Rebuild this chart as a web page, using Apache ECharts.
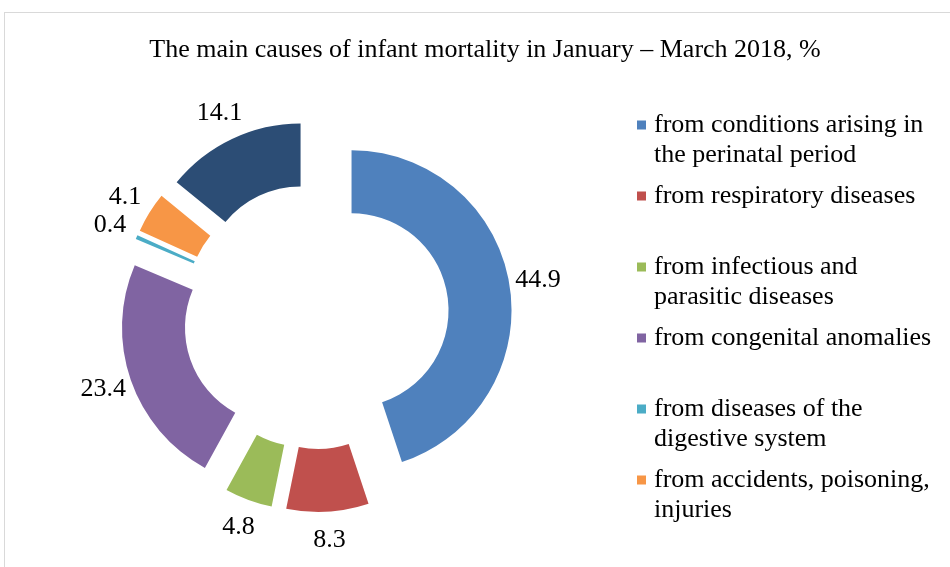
<!DOCTYPE html>
<html>
<head>
<meta charset="utf-8">
<script src="https://cdn.jsdelivr.net/npm/echarts@6/dist/echarts.min.js"></script>
<style>
  html, body { margin: 0; padding: 0; background: #fff; }
  #frame { position: absolute; left: 4px; top: 12px; width: 970px; height: 600px; border: 1px solid #d9d9d9; }
  #main { position: absolute; left: 0; top: 0; width: 950px; height: 567px; }
</style>
</head>
<body>
<div id="frame"></div>
<div id="main"></div>
<script>
// 死因分类（图例里只有前6项）
const categories = [
  'from conditions arising in\nthe perinatal period',
  'from respiratory diseases',
  'from infectious and\nparasitic diseases',
  'from congenital anomalies',
  'from diseases of the\ndigestive system',
  'from accidents, poisoning,\ninjuries',
  'other causes'
]
const values = [44.9, 8.3, 4.8, 23.4, 0.4, 4.1, 14.1]
const colors = ['#4F81BD', '#C0504D', '#9BBB59', '#8064A2', '#4BACC6', '#F79646', '#2C4D75']
const legendNames = categories.slice(0, 6)

const serif = '"Liberation Serif", "DejaVu Serif", serif'
const pieCenter = [316, 316]

let chart = echarts.init(document.getElementById('main'))
let option = {
  animation: false,
  backgroundColor: 'transparent',
  title: {
    text: 'The main causes of infant mortality in January – March 2018, %',
    left: 480,
    textAlign: 'center',
    top: 32,
    textStyle: { fontFamily: serif, fontSize: 26, fontWeight: 'normal', color: '#000' }
  },
  legend: {
    data: legendNames,
    orient: 'vertical',
    left: 637,
    top: 110,
    padding: 0,
    itemWidth: 9,
    itemHeight: 60,
    itemGap: 11,
    // 方块放在第一行的位置
    icon: 'path://M0,0L0.001,0ZM0,10.5H9V19.5H0ZM0,60L0.001,60Z',
    itemStyle: { borderWidth: 0 },
    formatter: function (name) {
      return name.indexOf('\n') < 0 ? name + '\n ' : name
    },
    textStyle: { fontFamily: serif, fontSize: 26, lineHeight: 30, color: '#000', padding: [0, 0, 0, 3] }
  },
  series: [
    {
      // 环形扇区（全部分离）
      type: 'pie',
      center: pieCenter,
      radius: [97, 160],
      startAngle: 90,
      clockwise: true,
      selectedMode: 'multiple',
      selectedOffset: 36,
      itemStyle: { borderWidth: 0 },
      label: { show: false },
      labelLine: { show: false },
      emphasis: { disabled: true },
      data: categories.map((name, i) => ({
        name: name,
        value: values[i],
        selected: true,
        itemStyle: { color: colors[i] }
      }))
    },
    {
      // 只用来放数值标签
      type: 'pie',
      center: pieCenter,
      radius: [221, 223],
      startAngle: 90,
      clockwise: true,
      silent: true,
      avoidLabelOverlap: false,
      itemStyle: { color: 'transparent', borderWidth: 0 },
      label: {
        show: true,
        position: 'inside',
        rotate: 0,
        formatter: '{c}',
        fontFamily: serif,
        fontSize: 26,
        color: '#000'
      },
      labelLine: { show: false },
      labelLayout: { hideOverlap: false },
      emphasis: { disabled: true },
      data: categories.map((name, i) => ({ name: name, value: values[i] }))
    }
  ]
}
chart.setOption(option)
</script>
</body>
</html>
